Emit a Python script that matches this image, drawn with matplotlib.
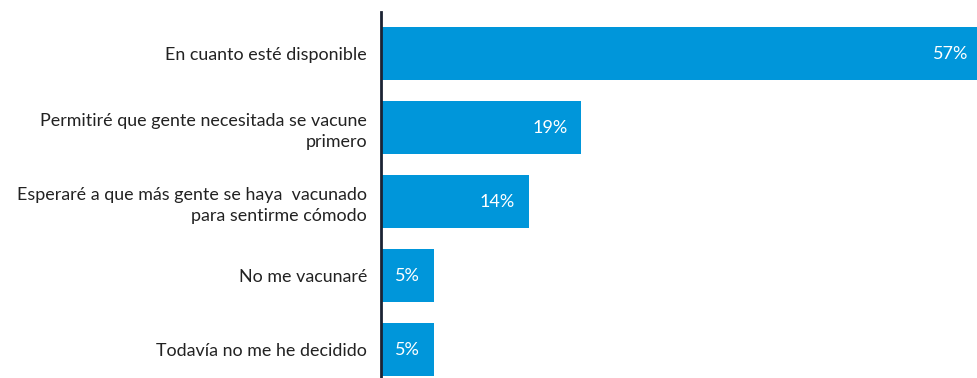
import numpy as np
import matplotlib.pyplot as plt

plt.rcParams['font.family'] = ['Lato', 'DejaVu Sans']

categorias = [
    'En cuanto esté disponible',
    'Permitiré que gente necesitada se vacune\nprimero',
    'Esperaré a que más gente se haya  vacunado\npara sentirme cómodo',
    'No me vacunaré',
    'Todavía no me he decidido',
]
porcentajes = [57, 19, 14, 5, 5]

fig = plt.figure(figsize=(9.78, 3.78), dpi=100)
ax = fig.add_axes([381 / 978, 0, 1 - 381 / 978, 1 - 12 / 378])

y = np.arange(len(categorias))
bars = ax.barh(y, porcentajes, height=0.716, color='#0096DA', zorder=2)

# etiqueta del valor dentro de cada barra, pegada al final
for b, v in zip(bars, porcentajes):
    ax.annotate(f'{v}%', xy=(b.get_width(), b.get_y() + b.get_height() / 2),
                xytext=(-10, 0), textcoords='offset points',
                ha='right', va='center', color='white', fontsize=13,
                annotation_clip=False)

ax.set_yticks(y)
ax.set_yticklabels(categorias, fontsize=12.9, color='#222222', linespacing=1.4)
ax.tick_params(axis='y', length=0, pad=10)
ax.set_ylim(4.385, -0.561)
ax.set_xlim(0, 56.6)
ax.set_xticks([])

for s in ['top', 'right', 'bottom']:
    ax.spines[s].set_visible(False)
ax.spines['left'].set_color('#1b2333')
ax.spines['left'].set_linewidth(2)
ax.spines['left'].set_zorder(3)

fig.savefig('out.png', dpi=100)
